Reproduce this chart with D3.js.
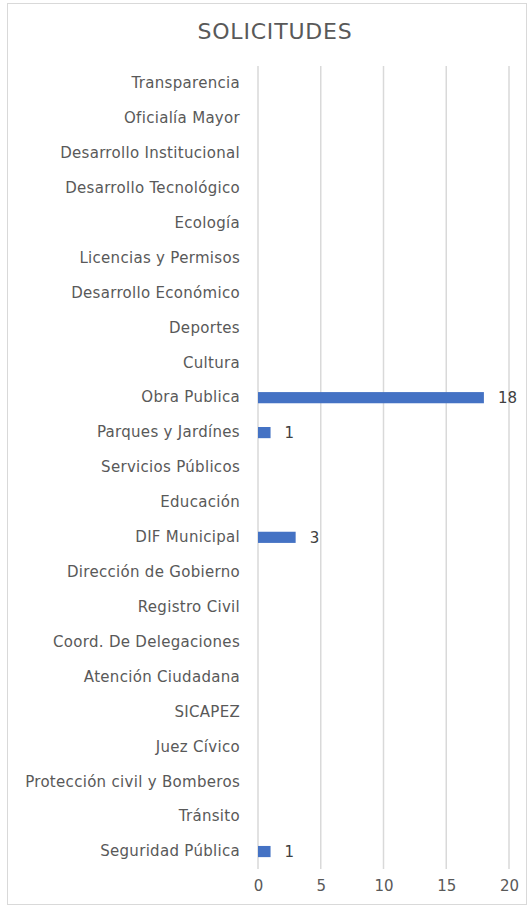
<!DOCTYPE html>
<html><head><meta charset="utf-8">
<script src="https://cdn.jsdelivr.net/npm/d3@7"></script>
<style>body{margin:0;background:#fff;font-family:"DejaVu Sans",sans-serif;}</style>
</head><body><svg id="c" width="530" height="907"></svg>
<script>
const categories = ["Transparencia","Oficialía Mayor","Desarrollo Institucional","Desarrollo Tecnológico","Ecología","Licencias y Permisos","Desarrollo Económico","Deportes","Cultura","Obra Publica","Parques y Jardínes","Servicios Públicos","Educación","DIF Municipal","Dirección de Gobierno","Registro Civil","Coord. De Delegaciones","Atención Ciudadana","SICAPEZ","Juez Cívico","Protección civil y Bomberos","Tránsito","Seguridad Pública"];
const values = [0,0,0,0,0,0,0,0,0,18,1,0,0,3,0,0,0,0,0,0,0,0,1];
const xTicks = [0,5,10,15,20];
const title = "SOLICITUDES";
const FONT = "DejaVu Sans";

const svg = d3.select("#c");
svg.append("rect").attr("x",7.5).attr("y",3.5).attr("width",519).attr("height",901)
  .attr("fill","#fff").attr("stroke","#d9d9d9").attr("stroke-width",1);
svg.append("text").attr("x",275).attr("y",39).attr("text-anchor","middle")
  .attr("font-size",22).attr("fill","#595959").attr("font-family",FONT).attr("letter-spacing","0.8").text(title);

const x = d3.scaleLinear().domain([0,20]).range([258,509]);
const y = d3.scaleBand().domain(categories).range([66,869]).paddingInner(0.68).paddingOuter(0.34);

svg.append("g").selectAll("line").data(xTicks).join("line")
  .attr("x1",d=>x(d)).attr("x2",d=>x(d)).attr("y1",66).attr("y2",869)
  .attr("stroke","#d9d9d9").attr("stroke-width",1.5);

const xa = svg.append("g").attr("transform","translate(0,869)")
  .call(d3.axisBottom(x).tickValues(xTicks).tickSize(0).tickPadding(11));
xa.select(".domain").remove();
xa.selectAll("text").attr("font-size",15).attr("fill","#595959").attr("font-family",FONT);

const ya = svg.append("g").attr("transform","translate(258,0)")
  .call(d3.axisLeft(y).tickSize(0).tickPadding(18));
ya.select(".domain").remove();
ya.selectAll("text").attr("font-size",15).attr("fill","#595959").attr("font-family",FONT).attr("letter-spacing","0.3");

const data = categories.map((c,i)=>({c, v: values[i]}));
svg.append("g").selectAll("rect").data(data.filter(d=>d.v>0)).join("rect")
  .attr("x",x(0)).attr("y",d=>y(d.c)).attr("width",d=>x(d.v)-x(0)).attr("height",y.bandwidth())
  .attr("fill","#4472c4");
svg.append("g").selectAll("text").data(data.filter(d=>d.v>0)).join("text")
  .attr("x",d=>x(d.v)+14).attr("y",d=>y(d.c)+y.bandwidth()/2).attr("dy","0.35em")
  .attr("font-size",15).attr("fill","#404040").attr("font-family",FONT).text(d=>d.v);
</script></body></html>
